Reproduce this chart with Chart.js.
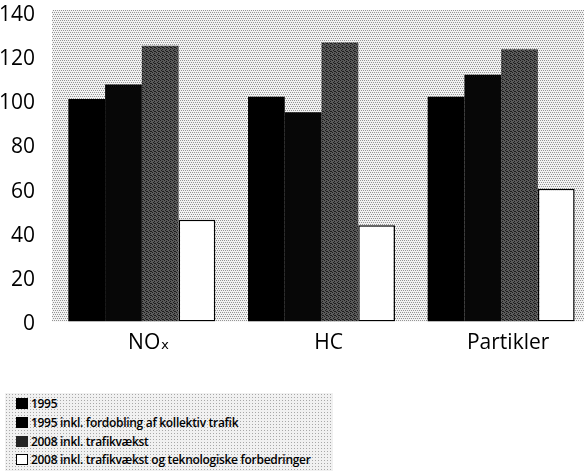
<!DOCTYPE html>
<html lang="da">
<head>
<meta charset="UTF-8">
<title>Emissioner</title>
<script src="https://cdn.jsdelivr.net/npm/chart.js@4"></script>
<style>
    * { margin: 0; padding: 0; }
    html, body { width: 584px; height: 471px; overflow: hidden; background: #fff; }
    #wrap { position: absolute; left: 0; top: 0; width: 591px; height: 380px; }
    #legend {
        position: absolute; left: 5px; top: 393px; width: 328px; height: 78px;
        background-color: #f1f1f1;
        background-image: radial-gradient(#a8a8a8 0.7px, transparent 0.9px);
        background-size: 3px 3px;
        font-family: "Open Sans", sans-serif; font-size: 12px; font-weight: 600; color: #000;
    }
    .item { position: absolute; left: 11px; height: 14px; line-height: 14px; white-space: nowrap; letter-spacing: -0.3px; }
    .box { display: inline-block; width: 12px; height: 11px; vertical-align: -1px; margin-right: 3px; box-sizing: border-box; }
</style>
</head>
<body>
<div id="wrap"><canvas id="graf" width="591" height="380"></canvas></div>
<div id="legend"></div>
<script>
// kategorier og serier (indeks)
const kategorier = ['NOₓ', 'HC', 'Partikler'];
const serieNavne = [
    '1995',
    '1995 inkl. fordobling af kollektiv trafik',
    '2008 inkl. trafikvækst',
    '2008 inkl. trafikvækst og teknologiske forbedringer'
];
const v1995 = [100.5, 101.5, 101.5];
const v1995Kollektiv = [107, 94.5, 111.5];
const v2008 = [124.5, 126, 123];
const v2008Teknologi = [46, 43.5, 60];
const yTicks = [0, 20, 40, 60, 80, 100, 120, 140];

// prikket raster som i originalen
const lavMoenster = (bund, prik, punkter) => {
    const c = document.createElement('canvas');
    c.width = 4; c.height = 4;
    const g = c.getContext('2d');
    g.fillStyle = bund;
    g.fillRect(0, 0, 4, 4);
    g.fillStyle = prik;
    punkter.forEach(p => g.fillRect(p[0], p[1], 1, 1));
    return g.createPattern(c, 'repeat');
};

const ctx = document.getElementById('graf').getContext('2d');
const baggrund = lavMoenster('#f2f2f2', '#949494', [[0, 0], [2, 0], [1, 2], [3, 2]]);
const graa = lavMoenster('#5a5a5a', '#1c1c1c', [[0, 0], [2, 1], [1, 2], [3, 3], [2, 3]]);

const farver = ['#000000', '#070707', graa, '#ffffff'];

const plotBaggrund = {
    id: 'plotBaggrund',
    beforeDraw(chart) {
        const a = chart.chartArea;
        const c = chart.ctx;
        c.save();
        c.fillStyle = baggrund;
        c.fillRect(a.left, a.top, a.right - a.left, a.bottom - a.top);
        c.restore();
    }
};

const serier = [v1995, v1995Kollektiv, v2008, v2008Teknologi];

const graf = new Chart(ctx, {
    type: 'bar',
    data: {
        labels: kategorier,
        datasets: serier.map((d, i) => ({
            label: serieNavne[i],
            data: d,
            backgroundColor: farver[i],
            borderColor: '#000',
            borderWidth: i === 3 ? 1.5 : 0,
            borderSkipped: false,
            barPercentage: 1,
            categoryPercentage: 0.818
        }))
    },
    options: {
        responsive: false,
        animation: false,
        layout: { padding: { top: 10, right: 0, left: 0, bottom: 0 } },
        plugins: {
            legend: { display: false },
            tooltip: { enabled: false }
        },
        scales: {
            x: {
                grid: { display: false },
                border: { display: false },
                ticks: {
                    color: '#000',
                    padding: 1,
                    labelOffset: 7,
                    font: { family: "'Open Sans', 'DejaVu Sans', sans-serif", size: 21 }
                },
                afterFit(scale) {
                    scale.height = 58.5;
                    scale.paddingLeft = 0;
                    scale.paddingRight = 0;
                }
            },
            y: {
                min: 0,
                max: 140.7,
                grid: { display: false },
                border: { display: false },
                afterBuildTicks(scale) { scale.ticks = yTicks.map(v => ({ value: v })); },
                afterFit(scale) {
                    scale.width = 52;
                    scale.paddingTop = 0;
                    scale.paddingBottom = 0;
                },
                ticks: {
                    color: '#000',
                    padding: 9,
                    labelOffset: 3,
                    font: { family: 'Open Sans', size: 21, lineHeight: 1 }
                }
            }
        }
    },
    plugins: [plotBaggrund]
});

// forklaring under grafen
const legend = document.getElementById('legend');
const raekkeY = [4, 23, 42, 60];
serieNavne.forEach((navn, i) => {
    const el = document.createElement('div');
    el.className = 'item';
    el.style.top = raekkeY[i] + 'px';
    const box = document.createElement('span');
    box.className = 'box';
    if (i === 2) {
        box.style.background = '#666';
        box.style.backgroundImage = 'radial-gradient(#222 0.7px, transparent 0.9px)';
        box.style.backgroundSize = '2px 2px';
    } else if (i === 3) {
        box.style.background = '#fff';
        box.style.border = '1px solid #000';
    } else {
        box.style.background = '#000';
    }
    el.appendChild(box);
    el.appendChild(document.createTextNode(navn));
    legend.appendChild(el);
});
</script>
</body>
</html>
